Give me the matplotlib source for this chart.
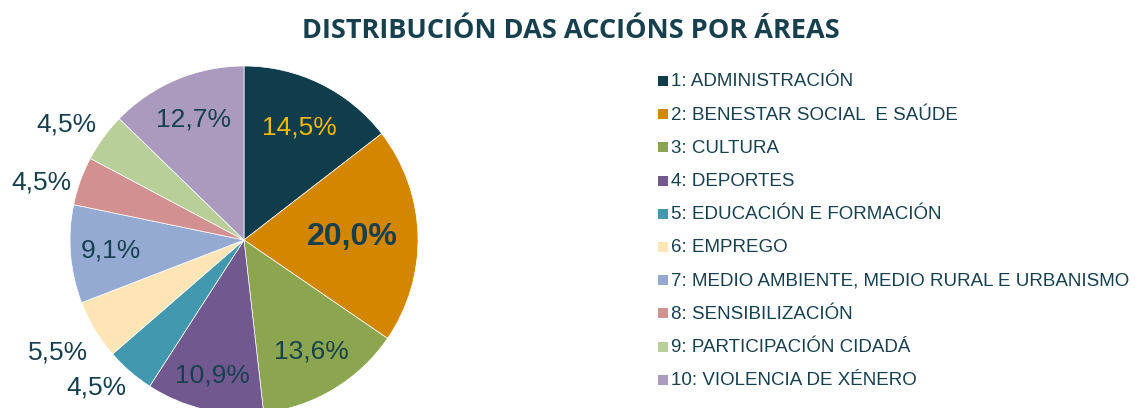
import matplotlib
matplotlib.use("Agg")
import matplotlib.pyplot as plt
import numpy as np
from matplotlib.patches import Rectangle

categories = ["1: ADMINISTRACIÓN", "2: BENESTAR SOCIAL  E SAÚDE", "3: CULTURA", "4: DEPORTES",
              "5: EDUCACIÓN E FORMACIÓN", "6: EMPREGO",
              "7: MEDIO AMBIENTE, MEDIO RURAL E URBANISMO", "8: SENSIBILIZACIÓN",
              "9: PARTICIPACIÓN CIDADÁ", "10: VIOLENCIA DE XÉNERO"]
values = [14.5, 20.0, 13.6, 10.9, 4.5, 5.5, 9.1, 4.5, 4.5, 12.7]
labels = ["14,5%", "20,0%", "13,6%", "10,9%", "4,5%", "5,5%", "9,1%", "4,5%", "4,5%", "12,7%"]

colors = ["#0F3D4C", "#D38600", "#8BA64E", "#71588F", "#4198AF", "#FEE5B5",
          "#94AAD2", "#D29090", "#B8CF9A", "#A99ABE"]
label_r = [0.72, 0.62, 0.75, 0.80, 1.20, 1.25, 0.77, 1.21, 1.22, 0.75]
label_dang = [0, 0, 0, 0, -4, 0, 0, 4, 3, 0]
label_colors = ["#F5B800"] + ["#17404F"] * 9
label_weight = ["normal", "bold"] + ["normal"] * 8
label_size = [19, 23] + [19] * 8

W, H = 1135, 408
fig = plt.figure(figsize=(W / 100, H / 100), dpi=100)
txt_color = "#17404F"

fig.text(571 / W, 1 - 31 / H, "DISTRIBUCIÓN DAS ACCIÓNS POR ÁREAS", ha="center", va="center",
         fontsize=19.5, fontweight="bold", color=txt_color, family="Open Sans")

cx, cy, R = 244, H - 240, 174
ax = fig.add_axes([(cx - R) / W, (cy - R) / H, 2 * R / W, 2 * R / H])
wedges, _ = ax.pie(values, colors=colors, startangle=90, counterclock=False, radius=1,
                   wedgeprops=dict(edgecolor="white", linewidth=0.5))
ax.set_xlim(-1, 1)
ax.set_ylim(-1, 1)
ax.set_aspect("equal")
ax.axis("off")

for w, lab, r, da, c, fw, fs in zip(wedges, labels, label_r, label_dang, label_colors,
                                    label_weight, label_size):
    ang = np.deg2rad((w.theta1 + w.theta2) / 2 + da)
    ax.text(r * np.cos(ang), r * np.sin(ang), lab, ha="center", va="center",
            fontsize=fs, fontweight=fw, color=c, family="Liberation Sans", clip_on=False)

y0, dy = 82, 33.2
for i, (cat, col) in enumerate(zip(categories, colors)):
    y = y0 + i * dy
    fig.patches.append(Rectangle((658 / W, 1 - (y + 4) / H), 10 / W, 10 / H,
                                 transform=fig.transFigure, facecolor=col, edgecolor="none"))
    fig.text(671 / W, 1 - y / H, cat, ha="left", va="center", fontsize=13.5,
             color=txt_color, family="Liberation Sans")

fig.savefig("out.png", dpi=100)
